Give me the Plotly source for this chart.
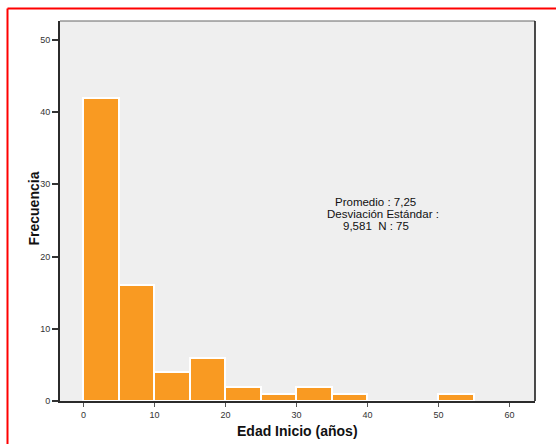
import plotly.graph_objects as go

# Histogram of age at onset (bins of 5 years)
bin_edges = [0, 5, 10, 15, 20, 25, 30, 35, 40, 45, 50, 55]
counts = [42, 16, 4, 6, 2, 1, 2, 1, 0, 0, 1]
x_ticks = [0, 10, 20, 30, 40, 50, 60]
y_ticks = [0, 10, 20, 30, 40, 50]
stats_lines = ["Promedio : 7,25", "Desviación Estándar :", "9,581  N : 75"]

centers = [(a + b) / 2 for a, b in zip(bin_edges[:-1], bin_edges[1:])]
widths = [b - a for a, b in zip(bin_edges[:-1], bin_edges[1:])]

fig = go.Figure()
fig.add_trace(go.Bar(
    x=centers, y=counts, width=widths,
    marker=dict(color="#F99A22", line=dict(color="white", width=2)),
    hoverinfo="x+y",
))

W, H = 556, 444
L, R, T, B = 60, 21, 21, 43
pw, ph = W - L - R, H - T - B

def px_x(p):
    return (p - L) / pw

def px_y(p):
    return (H - B - p) / ph

font = "Liberation Sans, Arial, sans-serif"

fig.update_layout(
    width=W, height=H,
    margin=dict(l=L, r=R, t=T, b=B),
    paper_bgcolor="white", plot_bgcolor="#EFEFEF",
    showlegend=False, bargap=0,
    font=dict(family=font, color="#222"),
    xaxis=dict(
        range=[-3.3, 63.6], tickvals=x_ticks, ticks="outside", ticklen=4,
        tickwidth=1, tickcolor="#555", tickfont=dict(size=9, color="#333"),
        showgrid=False, zeroline=False, showline=True, linewidth=2,
        linecolor="#2b2b2b",
    ),
    yaxis=dict(
        range=[0, 52.6], tickvals=y_ticks, ticks="outside", ticklen=6,
        tickwidth=1.5, tickcolor="#333", tickfont=dict(size=9, color="#333"),
        showgrid=False, zeroline=False, showline=True, linewidth=2,
        linecolor="#2b2b2b",
    ),
)

# Frame: top and right edges of the plot area
fig.add_shape(type="line", xref="paper", yref="paper", x0=0, x1=1, y0=1, y1=1,
              line=dict(color="#666", width=1))
fig.add_shape(type="line", xref="paper", yref="paper", x0=1, x1=1, y0=0, y1=1,
              line=dict(color="#111", width=1.5))

# Red outline along top and left of the figure
fig.add_shape(type="line", xref="paper", yref="paper",
              x0=px_x(7.5), x1=px_x(560), y0=px_y(8.5), y1=px_y(8.5),
              line=dict(color="red", width=2))
fig.add_shape(type="line", xref="paper", yref="paper",
              x0=px_x(7.5), x1=px_x(7.5), y0=px_y(8.5), y1=px_y(450),
              line=dict(color="red", width=2))

# Axis titles
fig.add_annotation(text="<b>Frecuencia</b>", xref="paper", yref="paper",
                   x=px_x(33), y=px_y(208.5), xanchor="center", yanchor="middle",
                   textangle=-90, showarrow=False,
                   font=dict(size=14, color="#111"))
fig.add_annotation(text="<b>Edad Inicio (años)</b>", xref="paper", yref="paper",
                   x=px_x(297), y=px_y(431), xanchor="center", yanchor="middle",
                   showarrow=False, font=dict(size=14, color="#111"))

# Summary statistics
for line, xc, yc in zip(stats_lines, [41.1, 42.2, 41.2], [27.6, 25.9, 24.2]):
    fig.add_annotation(text=line, x=xc, y=yc, xref="x", yref="y",
                       xanchor="center", yanchor="middle",
                       showarrow=False, font=dict(size=11.5, color="#111"))

fig.write_html("out.html")
